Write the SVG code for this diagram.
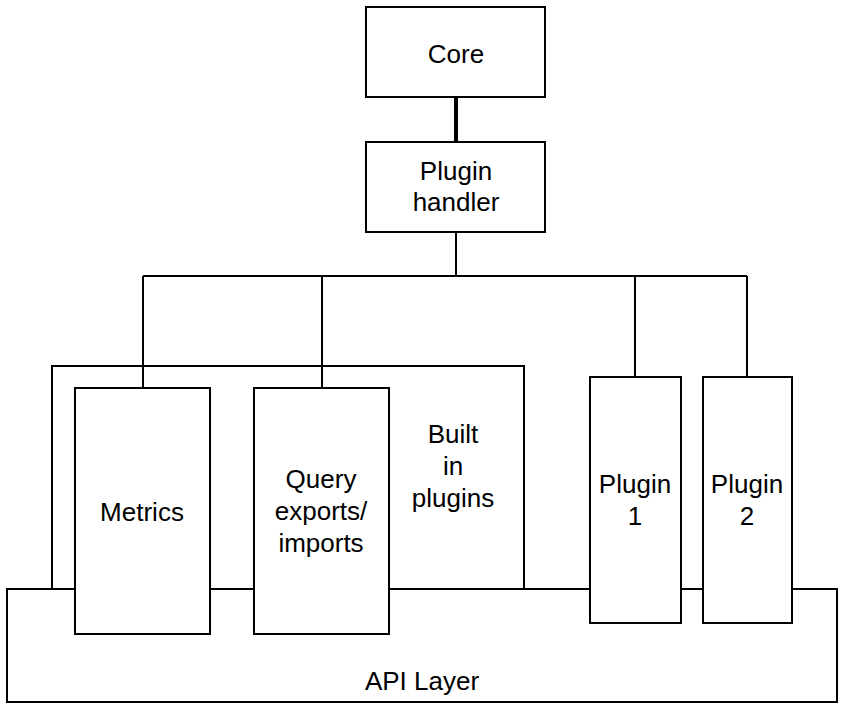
<svg xmlns="http://www.w3.org/2000/svg" width="845" height="712" viewBox="0 0 845 712">
<style>
.box{fill:#fff;stroke:#000;stroke-width:2}
.ln{fill:none;stroke:#000;stroke-width:2}
text{font-family:"Liberation Sans",Arial,sans-serif;font-size:26px;fill:#000;text-anchor:middle}
</style>
<rect width="845" height="712" fill="#fff"/>
<g id="api-layer"><rect class="box" x="7" y="589" width="830" height="113"/><text x="422" y="690">API Layer</text></g>
<g id="built-in-plugins"><rect class="box" x="52" y="366" width="472" height="223"/><text x="453" y="443">Built</text><text x="453" y="475">in</text><text x="453" y="507">plugins</text></g>
<g id="connectors">
<line x1="456" y1="97" x2="456" y2="142" stroke="#000" stroke-width="4"/>
<path class="ln" d="M456 232V276M143 276H747M143 276V388M322 276V388M635 276V377M747 276V377"/>
</g>
<g id="core"><rect class="box" x="366" y="7" width="179" height="90"/><text x="456" y="63">Core</text></g>
<g id="plugin-handler"><rect class="box" x="366" y="142" width="179" height="90"/><text x="456" y="180">Plugin</text><text x="456" y="211">handler</text></g>
<g id="metrics"><rect class="box" x="75" y="388" width="135" height="246"/><text x="142" y="521">Metrics</text></g>
<g id="query"><rect class="box" x="254" y="388" width="135" height="246"/><text x="321" y="488">Query</text><text x="321" y="520">exports/</text><text x="321" y="552">imports</text></g>
<g id="plugin1"><rect class="box" x="590" y="377" width="91" height="246"/><text x="635" y="493">Plugin</text><text x="635" y="525">1</text></g>
<g id="plugin2"><rect class="box" x="703" y="377" width="89" height="246"/><text x="747" y="493">Plugin</text><text x="747" y="525">2</text></g>
</svg>
